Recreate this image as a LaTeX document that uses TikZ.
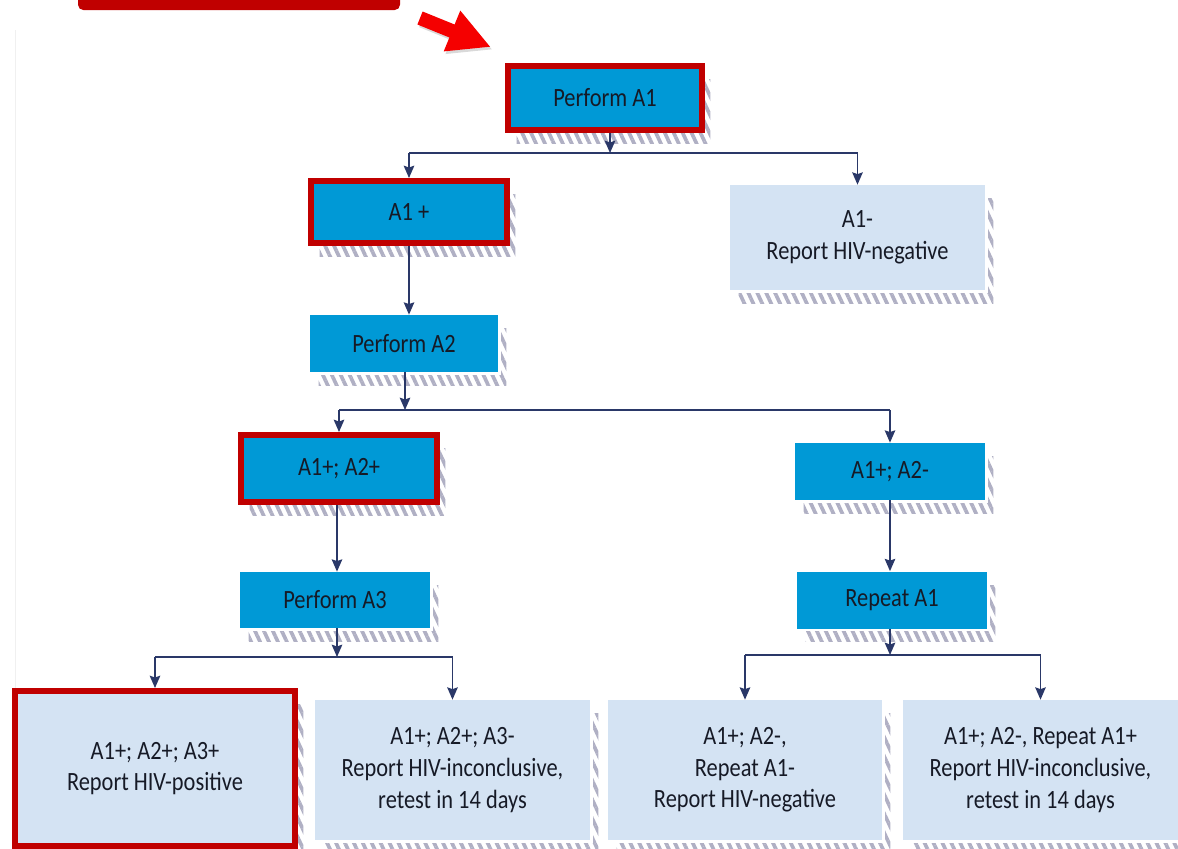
\documentclass[tikz,border=0pt]{standalone}
\usepackage{fontspec}
\setmainfont[FakeStretch=0.85]{Carlito}
\usepackage{xcolor}
\usetikzlibrary{arrows.meta,shadows,patterns.meta}

\definecolor{boxblue}{HTML}{0099D6}
\definecolor{boxlight}{HTML}{D4E3F3}
\definecolor{redframe}{HTML}{C00000}
\definecolor{linknavy}{HTML}{2A3868}
\definecolor{hatchgray}{HTML}{B0B0C4}
\definecolor{ink}{HTML}{161A26}
\definecolor{pointred}{HTML}{F50000}

\begin{document}
\begin{tikzpicture}[
    x=0.02cm, y=-0.02cm,
    % Node styles
    flowbox/.style={
        rectangle,
        inner sep=0pt,
        align=center,
        text=ink,
        font=\fontsize{15}{18}\selectfont,
        general shadow={
            shadow xshift=0.17cm,
            shadow yshift=-0.27cm,
            pattern={Lines[angle=-65,distance=4.6pt,line width=2.1pt]},
            pattern color=hatchgray
        },
        preaction={draw=white, line width=3pt}
    },
    stepbox/.style={
        flowbox,
        fill=boxblue
    },
    resultbox/.style={
        flowbox,
        fill=boxlight
    },
    marked/.style={
        draw=redframe,
        line width=3.4pt
    },
    conn/.style={
        -{Stealth[length=7pt,width=6pt,inset=1pt]},
        draw=linknavy,
        line width=0.9pt
    },
    bar/.style={
        draw=linknavy,
        line width=0.9pt
    }
]

\useasboundingbox (0,0) rectangle (1178,849);

% ===== Page decorations =====

\draw[black!6, line width=0.5pt] (15,30) -- (15,690);
\fill[redframe, rounded corners=3pt] (78,-10) rectangle (400,10);

\fill[pointred, drop shadow={shadow xshift=1pt, shadow yshift=-1.5pt, opacity=0.3}]
    (422.6,11.5) -- (454.6,24.5) -- (460.3,10.6) -- (490,46.7)
    -- (443.7,51.4) -- (449.4,37.5) -- (417.4,24.5) -- cycle;

% ===== First test =====

\node[stepbox, marked, minimum width=3.88cm, minimum height=1.28cm] (pa1) at (605,98) {Perform A1};

\node[stepbox, marked, minimum width=3.92cm, minimum height=1.24cm] (a1p) at (409,212) {A1 +};

\node[resultbox, minimum width=5.1cm, minimum height=2.1cm] (a1n) at (857.5,237.5)
    {A1-\\Report HIV-negative};

% ===== Second test =====

\node[stepbox, minimum width=3.76cm, minimum height=1.14cm] (pa2) at (404,343.5) {Perform A2};

\node[stepbox, marked, minimum width=3.92cm, minimum height=1.34cm] (a2p) at (339,468.5) {A1+; A2+};

\node[stepbox, minimum width=3.8cm, minimum height=1.14cm] (a2n) at (890,471.5) {A1+; A2-};

% ===== Third test / repeat =====

\node[stepbox, minimum width=3.8cm, minimum height=1.12cm] (pa3) at (335,600) {Perform A3};

\node[stepbox, minimum width=3.8cm, minimum height=1.14cm] (ra1) at (892,600) {Repeat A1};

% ===== Results =====

\node[resultbox, marked, minimum width=5.6cm, minimum height=3.1cm] (pos) at (155,768.5)
    {A1+; A2+; A3+\\Report HIV-positive};

\node[resultbox, minimum width=5.5cm, minimum height=2.8cm] (inc1) at (452.5,770)
    {A1+; A2+; A3-\\Report HIV-inconclusive,\\retest in 14 days};

\node[resultbox, minimum width=5.48cm, minimum height=2.8cm] (neg2) at (745,770)
    {A1+; A2-,\\Repeat A1-\\Report HIV-negative};

\node[resultbox, minimum width=5.5cm, minimum height=2.8cm] (inc2) at (1040.5,770)
    {A1+; A2-, Repeat A1+\\Report HIV-inconclusive,\\retest in 14 days};

% ===== Connectors =====

\coordinate (f1) at (610,153);
\coordinate (f2) at (405,410);
\coordinate (f3) at (337,657);
\coordinate (f4) at (890,655);

\draw[conn] (pa1.south -| f1) -- (f1);
\draw[bar] (f1 -| a1p) -- (f1 -| a1n);
\draw[conn] (f1 -| a1p) -- (a1p.north);
\draw[conn] (f1 -| a1n) -- (a1n.north);

\draw[conn] (a1p.south) -- (pa2.north -| a1p);

\draw[conn] (pa2.south -| f2) -- (f2);
\draw[bar] (f2 -| a2p) -- (f2 -| a2n);
\draw[conn] (f2 -| a2p) -- (a2p.north);
\draw[conn] (f2 -| a2n) -- (a2n.north);

\draw[conn] (a2p.south -| f3) -- (pa3.north -| f3);
\draw[conn] (a2n.south) -- (ra1.north -| a2n);

\draw[conn] (pa3.south -| f3) -- (f3);
\draw[bar] (f3 -| pos) -- (f3 -| inc1);
\draw[conn] (f3 -| pos) -- (pos.north);
\draw[conn] (f3 -| inc1) -- (inc1.north);

\draw[conn] (ra1.south -| f4) -- (f4);
\draw[bar] (f4 -| neg2) -- (f4 -| inc2);
\draw[conn] (f4 -| neg2) -- (neg2.north);
\draw[conn] (f4 -| inc2) -- (inc2.north);

\end{tikzpicture}
\end{document}
